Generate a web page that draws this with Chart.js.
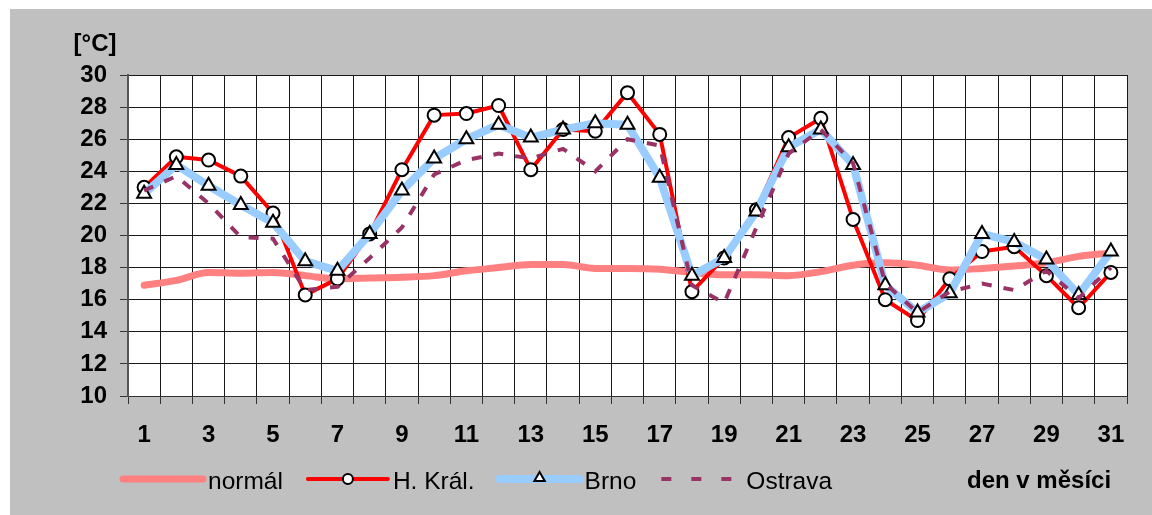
<!DOCTYPE html>
<html>
<head>
<meta charset="utf-8">
<script src="https://cdn.jsdelivr.net/npm/chart.js@4/dist/chart.umd.min.js"></script>
<style>
  html, body { margin: 0; padding: 0; background: #fff; }
  #wrap { width: 1152px; height: 515px; }
</style>
</head>
<body>
<div id="wrap"><canvas id="chart" width="1152" height="515"></canvas></div>
<script>
// ================= DATA =================
const days = ["1","2","3","4","5","6","7","8","9","10","11","12","13","14","15","16",
  "17","18","19","20","21","22","23","24","25","26","27","28","29","30","31"];

const normal = [16.9, 17.2, 17.7, 17.65, 17.7, 17.5, 17.3, 17.35, 17.4, 17.5, 17.8, 18.0, 18.2, 18.2, 17.95, 17.95,
  17.9, 17.7, 17.55, 17.55, 17.5, 17.75, 18.15, 18.3, 18.15, 17.85, 17.95, 18.1, 18.3, 18.7, 18.9];

const hKral = [23.0, 24.9, 24.7, 23.7, 21.4, 16.3, 17.3, 20.1, 24.1, 27.5, 27.6, 28.1, 24.1, 26.6, 26.5, 28.9,
  26.3, 16.5, 18.6, 21.6, 26.1, 27.3, 21.0, 16.0, 14.7, 17.3, 19.0, 19.3, 17.5, 15.5, 17.7];

const brno = [22.6, 24.4, 23.1, 21.9, 20.8, 18.4, 17.8, 20.1, 22.8, 24.8, 26.0, 26.9, 26.1, 26.6, 27.0, 26.9,
  23.6, 17.5, 18.6, 21.5, 25.5, 26.6, 24.4, 16.9, 15.2, 16.4, 20.1, 19.6, 18.5, 16.3, 19.0];

const ostrava = [22.8, 23.7, 22.0, 19.9, 19.8, 16.6, 16.8, 18.6, 20.5, 23.8, 24.7, 25.1, 24.8, 25.4, 24.0, 26.0,
  25.6, 16.9, 15.8, 20.5, 25.1, 26.6, 24.5, 17.0, 15.2, 16.5, 17.0, 16.6, 17.8, 16.1, 18.0];

const yMin = 10, yMax = 30, yStep = 2;

const FONT = "'Liberation Sans', Arial, sans-serif";

// ================= PLUGINS =================
const backdrop = {
  id: "backdrop",
  beforeDraw(chart) {
    const { ctx, chartArea: a } = chart;
    ctx.save();
    ctx.fillStyle = "#ffffff";
    ctx.fillRect(0, 0, chart.width, chart.height);
    ctx.fillStyle = "#c0c0c0";
    ctx.fillRect(10, 9, chart.width - 10, chart.height - 9);
    ctx.fillStyle = "#ffffff";
    ctx.fillRect(a.left, a.top, a.right - a.left, a.bottom - a.top);
    ctx.restore();
  }
};

function drawMarker(ctx, style, x, y, r) {
  ctx.save();
  ctx.fillStyle = "#ffffff";
  ctx.strokeStyle = "#000000";
  ctx.lineWidth = 2;
  ctx.beginPath();
  if (style === "circle") {
    ctx.arc(x, y, r, 0, Math.PI * 2);
  } else {
    ctx.moveTo(x, y - r);
    ctx.lineTo(x + r * 0.87, y + r * 0.5);
    ctx.lineTo(x - r * 0.87, y + r * 0.5);
    ctx.closePath();
  }
  ctx.fill();
  ctx.stroke();
  ctx.restore();
}

const legendAndTitles = {
  id: "legendAndTitles",
  afterDraw(chart) {
    const ctx = chart.ctx;
    ctx.save();
    ctx.fillStyle = "#000";
    ctx.textBaseline = "middle";

    // unit label
    ctx.font = "bold 24px " + FONT;
    ctx.textAlign = "center";
    ctx.fillText("[°C]", 95, 44);

    // axis caption
    ctx.textAlign = "left";
    ctx.fillText("den v měsíci", 967, 481);

    // legend
    const ly = 479;
    let x = 123;
    ctx.font = "24.5px " + FONT;
    chart.data.datasets.forEach(ds => {
      const len = 80;
      ctx.save();
      ctx.strokeStyle = ds.borderColor;
      ctx.lineWidth = ds.borderWidth;
      ctx.lineCap = ds.borderDash ? "butt" : "round";
      if (ds.borderDash) ctx.setLineDash([10, 20]);
      ctx.beginPath();
      ctx.moveTo(x, ly);
      ctx.lineTo(x + len, ly);
      ctx.stroke();
      ctx.restore();
      if (ds.pointRadius > 0) drawMarker(ctx, ds.pointStyle, x + len / 2, ly - (ds.pointStyle === "triangle" ? 1 : 0), ds.pointStyle === "triangle" ? 6 : 5);
      const tx = x + len + 5;
      ctx.fillStyle = "#000";
      ctx.fillText(ds.label, tx, ly + 3);
      x = tx + ctx.measureText(ds.label).width + 25;
    });
    ctx.restore();
  }
};

// ================= CHART =================
new Chart(document.getElementById("chart"), {
  type: "line",
  data: {
    labels: days,
    datasets: [
      {
        label: "normál", data: normal, order: 4,
        borderColor: "#ff8080", borderWidth: 7,
        pointRadius: 0, cubicInterpolationMode: "monotone",
        borderCapStyle: "round", borderJoinStyle: "round"
      },
      {
        label: "H. Král.", data: hKral, order: 3,
        borderColor: "#ff0000", borderWidth: 4,
        pointStyle: "circle", pointRadius: 6.5, pointBackgroundColor: "#ffffff",
        pointBorderColor: "#000000", pointBorderWidth: 2, tension: 0,
        borderJoinStyle: "round"
      },
      {
        label: "Brno", data: brno, order: 2,
        borderColor: "#99ccff", borderWidth: 8,
        pointStyle: "triangle", pointRadius: 8, pointBackgroundColor: "#ffffff",
        pointBorderColor: "#000000", pointBorderWidth: 2, tension: 0,
        borderJoinStyle: "round"
      },
      {
        label: "Ostrava", data: ostrava, order: 1,
        borderColor: "#993366", borderWidth: 4, borderDash: [10, 12],
        pointRadius: 0, tension: 0
      }
    ]
  },
  options: {
    responsive: false,
    animation: false,
    layout: { padding: { left: 0, top: 75, right: 25, bottom: 0 } },
    plugins: { legend: { display: false }, tooltip: { enabled: false } },
    scales: {
      x: {
        offset: true,
        grid: { offset: true, color: "#1a1a1a", lineWidth: 1, tickLength: 8, tickColor: "#333" },
        border: { color: "#333", width: 1 },
        ticks: {
          autoSkip: false, maxRotation: 0, padding: 17, color: "#000",
          font: { family: FONT, size: 24, weight: "bold" },
          callback(v, i) { return i % 2 === 0 ? days[i] : ""; }
        },
        afterFit(scale) { scale.height = 119; }
      },
      y: {
        min: yMin, max: yMax,
        grid: { color: "#1a1a1a", lineWidth: 1, tickLength: 8, tickColor: "#333" },
        border: { color: "#555", width: 2 },
        ticks: {
          stepSize: yStep, padding: 13, color: "#000",
          font: { family: FONT, size: 24, weight: "bold" }
        },
        afterFit(scale) { scale.width = 128; }
      }
    }
  },
  plugins: [backdrop, legendAndTitles]
});
</script>
</body>
</html>
